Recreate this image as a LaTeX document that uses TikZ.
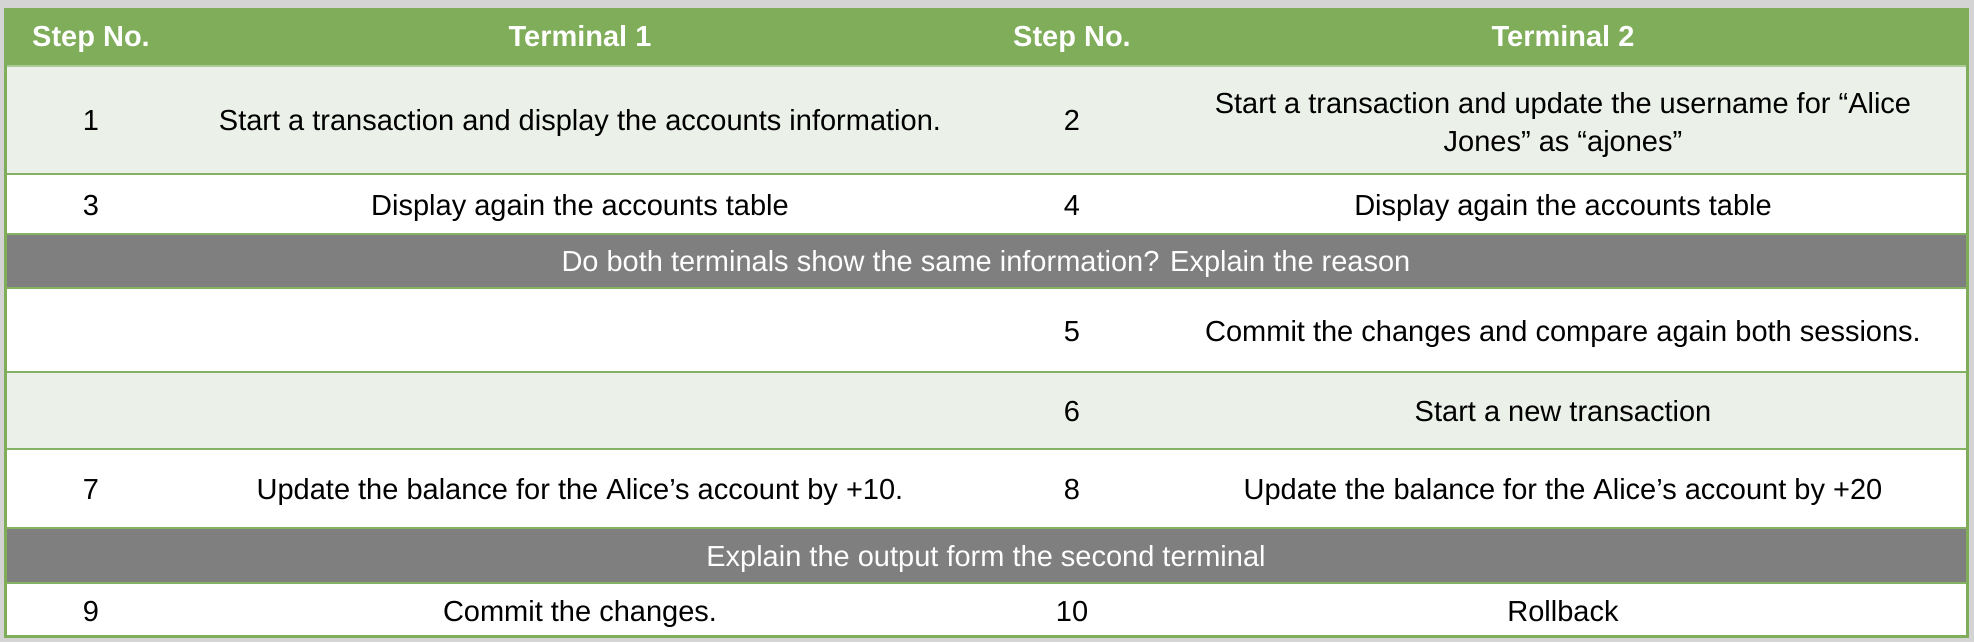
\documentclass[tikz,border=0pt]{standalone}
\usepackage{fontspec}
\setmainfont{Liberation Sans}
\definecolor{bggray}{HTML}{D4D4D4}
\definecolor{hdrgreen}{HTML}{7FAD59}
\definecolor{linegreen}{HTML}{84B262}
\definecolor{lightrow}{HTML}{EBF0E8}
\definecolor{darkrow}{HTML}{7F7F7F}
\tikzset{
  cell/.style={anchor=base, inner sep=0pt, font=\fontsize{14.5pt}{19pt}\selectfont, text=black},
  hcell/.style={cell, font=\fontsize{14.5pt}{19pt}\selectfont\bfseries, text=white},
  qcell/.style={cell, text=white},
  sep/.style={draw=linegreen, line width=1.3pt}
}
\begin{document}
\begin{tikzpicture}[x=0.5pt,y=-0.5pt]
\useasboundingbox (0,0) rectangle (1974,642);
\fill[bggray] (0,0) rectangle (1974,642);
% row fills
\fill[hdrgreen] (4,8) rectangle (1968,65);
\fill[lightrow] (4,65) rectangle (1968,174);
\fill[white] (4,174) rectangle (1968,234);
\fill[darkrow] (4,234) rectangle (1968,288);
\fill[white] (4,288) rectangle (1968,372);
\fill[lightrow] (4,372) rectangle (1968,449);
\fill[white] (4,449) rectangle (1968,528);
\fill[darkrow] (4,528) rectangle (1968,583);
\fill[white] (4,583) rectangle (1968,637);
% separators
\draw[draw=lightrow!40!linegreen, line width=1pt] (4,66) -- (1968,66);
\foreach \yy in {174,234,288,372,449,528,583} \draw[sep] (4,\yy) -- (1968,\yy);
% outer border
\draw[draw=hdrgreen, line width=1.5pt] (5,9.5) rectangle (1967,636.5);
% header
\node[hcell] (h1) at (91,47) {Step No.};
\node[hcell] (h2) at (580,47) {Terminal 1};
\node[hcell] (h3) at (1072,47) {Step No.};
\node[hcell] (h4) at (1563,47) {Terminal 2};
% row 1
\node[cell] (s1) at (91,130) {1};
\node[cell] (t1r1) at (580,130) {Start a transaction and display the accounts information.};
\node[cell] (s2) at (1072,130) {2};
\node[cell] (t2r1a) at (1563,113) {Start a transaction and update the username for “Alice};
\node[cell] (t2r1b) at (1563,151) {Jones” as “ajones”};
% row 2
\node[cell] (s3) at (91,215) {3};
\node[cell] (t1r2) at (580,215) {Display again the accounts table};
\node[cell] (s4) at (1072,215) {4};
\node[cell] (t2r2) at (1563,215) {Display again the accounts table};
% question 1
\node[qcell] (q1) at (986,271) {Do both terminals show the same information? Explain the reason};
% row 5
\node[cell] (s5) at (1072,341) {5};
\node[cell] (t2r5) at (1563,341) {Commit the changes and compare again both sessions.};
% row 6
\node[cell] (s6) at (1072,421) {6};
\node[cell] (t2r6) at (1563,421) {Start a new transaction};
% row 7
\node[cell] (s7) at (91,499) {7};
\node[cell] (t1r7) at (580,499) {Update the balance for the Alice’s account by +10.};
\node[cell] (s8) at (1072,499) {8};
\node[cell] (t2r7) at (1563,499) {Update the balance for the Alice’s account by +20};
% question 2
\node[qcell] (q2) at (986,566) {Explain the output form the second terminal};
% row 9
\node[cell] (s9) at (91,621) {9};
\node[cell] (t1r9) at (580,621) {Commit the changes.};
\node[cell] (s10) at (1072,621) {10};
\node[cell] (t2r9) at (1563,621) {Rollback};
\end{tikzpicture}
\end{document}
